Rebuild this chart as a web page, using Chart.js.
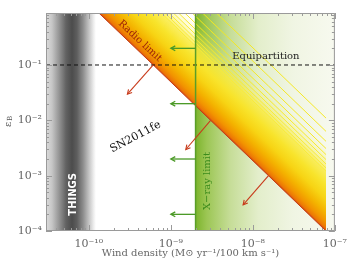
<!DOCTYPE html>
<html>
<head>
<meta charset="utf-8">
<script src="https://cdn.jsdelivr.net/npm/chart.js@4/dist/chart.umd.min.js"></script>
<style>
html, body { margin: 0; padding: 0; background: #fff; }
#wrap { width: 354px; height: 266px; }
</style>
</head>
<body>
<div id="wrap"><canvas id="chart" width="354" height="266"></canvas></div>
<script>
// 坐标范围
const X_MIN = 3.0e-11, X_MAX = 1e-7;
const Y_MIN = 1e-4, Y_MAX = 0.87;
const xTickValues = [1e-10, 1e-9, 1e-8, 1e-7];
const xTickLabels = ['10⁻¹⁰', '10⁻⁹', '10⁻⁸', '10⁻⁷'];
const yTickValues = [1e-4, 1e-3, 1e-2, 1e-1];
const yTickLabels = ['10⁻⁴', '10⁻³', '10⁻²', '10⁻¹'];

// radio limit
const radioWind = [1.2e-10, 6.1e-10, 3.05e-9, 1.55e-8, 7.8e-8];
const radioEps = [1.0, 0.1, 0.01, 1e-3, 1e-4];
// fainter parallel curves above the limit, in dex
const fanOffsets = [1.08, 1.14, 1.21, 1.29, 1.38, 1.49, 1.62, 1.8, 2.04];

const xrayWind = 2e-9;
const equipEps = 0.1;
const thingsWind = [3.0e-11, 1.22e-10];

// arrows
const greenArrowEps = [0.2, 0.02, 0.002, 0.0002];
const greenArrowTip = 1.0e-9;
const redArrowFrom = [[6.1e-10, 0.1], [3.05e-9, 0.01], [1.55e-8, 1e-3]];
const redArrowTo = [[2.95e-10, 0.0297], [1.52e-9, 2.97e-3], [7.6e-9, 2.97e-4]];

// text labels: [text, wind, eps, angle(deg), color, font]
const textLabels = [
    ['Radio limit', 4.2e-10, 0.27, 43, '#9c2208', '10px "DejaVu Serif"'],
    ['Equipartition', 1.44e-8, 0.14, 0, '#222', '10px "DejaVu Serif"'],
    ['SN2011fe', 3.7e-10, 5.0e-3, -28, '#111', '11px "DejaVu Serif"'],
    ['THINGS', 6.4e-11, 4.6e-4, -90, '#ffffff', 'bold 10px "DejaVu Sans"'],
    ['X\u2212ray limit', 2.8e-9, 8.0e-4, -90, '#3c8c1c', '10px "DejaVu Serif"']
];

const SERIF = '"DejaVu Serif", serif';

function px(chart, x) { return chart.scales.x.getPixelForValue(x); }
function py(chart, y) { return chart.scales.y.getPixelForValue(y); }

// 灰色 THINGS 带
function thingsGradient(ctx) {
    const chart = ctx.chart;
    if (!chart.chartArea) return '#888';
    const x0 = px(chart, thingsWind[0]), x1 = px(chart, thingsWind[1]);
    const g = chart.ctx.createLinearGradient(x0, 0, x1, 0);
    g.addColorStop(0, '#dcdcdc');
    g.addColorStop(0.12, '#c6c6c6');
    g.addColorStop(0.28, '#8e8e8e');
    g.addColorStop(0.4, '#626262');
    g.addColorStop(0.52, '#4c4c4c');
    g.addColorStop(0.62, '#5e5e5e');
    g.addColorStop(0.74, '#8c8c8c');
    g.addColorStop(0.86, '#c4c4c4');
    g.addColorStop(0.95, '#ececec');
    g.addColorStop(1, '#ffffff');
    return g;
}

// 绿色 X-ray 区域
function xrayGradient(ctx) {
    const chart = ctx.chart;
    if (!chart.chartArea) return '#8b4';
    const x0 = px(chart, xrayWind), x1 = px(chart, X_MAX);
    const g = chart.ctx.createLinearGradient(x0, 0, x1, 0);
    g.addColorStop(0, '#7cb42c');
    g.addColorStop(0.08, '#9cc654');
    g.addColorStop(0.25, '#c6dd98');
    g.addColorStop(0.45, '#e3eecb');
    g.addColorStop(0.7, '#f0f5e3');
    g.addColorStop(1, '#f7f9ef');
    return g;
}

// 橙黄渐变, 垂直于 radio limit
function radioGradient(ctx) {
    const chart = ctx.chart;
    if (!chart.chartArea) return '#fa0';
    const n = radioWind.length - 1;
    const ax = px(chart, radioWind[0]), ay = py(chart, radioEps[0]);
    const bx = px(chart, radioWind[n]), by = py(chart, radioEps[n]);
    const len = Math.hypot(bx - ax, by - ay);
    const nx = (by - ay) / len, ny = -(bx - ax) / len;
    const D = 60;
    const g = chart.ctx.createLinearGradient(ax, ay, ax + nx * D, ay + ny * D);
    g.addColorStop(0, '#d44a10');
    g.addColorStop(0.03, '#ec7606');
    g.addColorStop(0.1, '#f29400');
    g.addColorStop(0.22, '#f4b400');
    g.addColorStop(0.38, '#f7d414');
    g.addColorStop(0.55, '#f8e42c');
    g.addColorStop(0.7, 'rgba(249,234,60,0.85)');
    g.addColorStop(0.85, 'rgba(250,240,80,0.3)');
    g.addColorStop(1, 'rgba(250,240,90,0.0)');
    return g;
}

const datasets = [];

datasets.push({
    label: 'THINGS',
    data: [{ x: thingsWind[0], y: 1.0 }, { x: thingsWind[1], y: 1.0 }],
    borderWidth: 0, pointRadius: 0, fill: 'start',
    backgroundColor: thingsGradient, order: 20
});

datasets.push({
    label: 'X-ray region',
    data: [{ x: xrayWind, y: 1.0 }, { x: X_MAX, y: 1.0 }],
    borderWidth: 0, pointRadius: 0, fill: 'start',
    backgroundColor: xrayGradient, order: 19
});

datasets.push({
    label: 'Radio limit',
    data: radioWind.map((w, i) => ({ x: w, y: radioEps[i] })),
    borderColor: '#c23c16', borderWidth: 1, pointRadius: 0,
    fill: 'end', backgroundColor: radioGradient, order: 17
});

fanOffsets.forEach((k, j) => {
    datasets.push({
        label: 'fan' + j,
        data: radioWind.map((w, i) => ({ x: w, y: radioEps[i] * Math.pow(10, k) })),
        borderColor: 'rgba(246,232,30,0.95)', borderWidth: 1, pointRadius: 0,
        fill: false, order: 18
    });
});

datasets.push({
    label: 'Equipartition',
    data: [{ x: X_MIN, y: equipEps }, { x: X_MAX, y: equipEps }],
    borderColor: '#111', borderWidth: 1, borderDash: [4, 3], pointRadius: 0,
    fill: false, order: 5
});

datasets.push({
    label: 'X-ray limit',
    data: [{ x: xrayWind, y: Y_MIN }, { x: xrayWind, y: 1.0 }],
    borderColor: '#5a9e28', borderWidth: 1.5, pointRadius: 0,
    fill: false, order: 4
});

// 箭头 & 文字
const overlayPlugin = {
    id: 'overlay',
    afterDatasetsDraw(chart) {
        const c = chart.ctx;
        const area = chart.chartArea;
        c.save();
        c.beginPath();
        c.rect(area.left, area.top, area.right - area.left, area.bottom - area.top);
        c.clip();

        function arrow(x0, y0, x1, y1, color, w, head) {
            c.strokeStyle = color;
            c.lineWidth = w;
            c.beginPath();
            c.moveTo(x0, y0);
            c.lineTo(x1, y1);
            c.stroke();
            const a = Math.atan2(y1 - y0, x1 - x0);
            c.beginPath();
            c.moveTo(x1 - head * Math.cos(a - 0.5), y1 - head * Math.sin(a - 0.5));
            c.lineTo(x1, y1);
            c.lineTo(x1 - head * Math.cos(a + 0.5), y1 - head * Math.sin(a + 0.5));
            c.stroke();
        }

        greenArrowEps.forEach(e => {
            const y = py(chart, e);
            arrow(px(chart, xrayWind), y, px(chart, greenArrowTip), y, '#4c9a28', 1.3, 5);
        });
        redArrowFrom.forEach((f, i) => {
            const t = redArrowTo[i];
            arrow(px(chart, f[0]), py(chart, f[1]), px(chart, t[0]), py(chart, t[1]), '#c83a1a', 1.1, 5);
        });

        textLabels.forEach(([txt, w, e, ang, color, font]) => {
            c.save();
            c.translate(px(chart, w), py(chart, e));
            c.rotate(ang * Math.PI / 180);
            c.font = font;
            c.fillStyle = color;
            c.textAlign = 'center';
            c.textBaseline = 'middle';
            c.fillText(txt, 0, 0);
            c.restore();
        });
        c.restore();
    }
};

// 边框与刻度 (朝内)
const framePlugin = {
    id: 'frame',
    afterDraw(chart) {
        const c = chart.ctx;
        const a = chart.chartArea;
        c.save();
        c.strokeStyle = '#9a9a9a';
        c.lineWidth = 1;
        c.strokeRect(a.left + 0.5, a.top + 0.5, a.right - a.left - 1, a.bottom - a.top - 1);
        c.beginPath();
        for (let d = -11; d <= -7; d++) {
            for (let m = 1; m <= 9; m++) {
                const v = m * Math.pow(10, d);
                if (v < X_MIN * 0.999 || v > X_MAX * 1.001) continue;
                const x = Math.round(px(chart, v)) + 0.5;
                const L = m === 1 ? 6 : 3;
                c.moveTo(x, a.bottom); c.lineTo(x, a.bottom - L);
                c.moveTo(x, a.top); c.lineTo(x, a.top + L);
            }
        }
        for (let d = -4; d <= 0; d++) {
            for (let m = 1; m <= 9; m++) {
                const v = m * Math.pow(10, d);
                if (v < Y_MIN * 0.999 || v > Y_MAX * 1.001) continue;
                const y = Math.round(py(chart, v)) + 0.5;
                const L = m === 1 ? 6 : 3;
                c.moveTo(a.left, y); c.lineTo(a.left + L, y);
                c.moveTo(a.right, y); c.lineTo(a.right - L, y);
            }
        }
        c.stroke();

        // y 轴标题 ε_B
        c.fillStyle = '#555';
        c.save();
        c.translate(8, 122);
        c.rotate(-Math.PI / 2);
        c.textAlign = 'left';
        c.textBaseline = 'middle';
        c.font = '10px ' + SERIF;
        c.fillText('\u03b5', -5, 0);
        c.font = '7px ' + SERIF;
        c.fillText('B', 1, 2);
        c.restore();
        c.restore();
    }
};

new Chart(document.getElementById('chart'), {
    type: 'line',
    data: { datasets },
    options: {
        responsive: false,
        animation: false,
        layout: { padding: { top: 13, right: 17, left: 0, bottom: 0 } },
        plugins: { legend: { display: false }, tooltip: { enabled: false } },
        scales: {
            x: {
                type: 'logarithmic', min: X_MIN, max: X_MAX,
                grid: { display: false, drawTicks: false }, border: { display: false },
                afterBuildTicks: s => { s.ticks = xTickValues.map(v => ({ value: v })); },
                afterFit: s => { s.height = 35; },
                ticks: {
                    autoSkip: false, maxRotation: 0, padding: 7,
                    color: '#666', font: { family: SERIF, size: 11 },
                    callback: (v, i) => xTickLabels[i]
                },
                title: {
                    display: true, text: 'Wind density (M\u2299 yr\u207b\u00b9/100 km s\u207b\u00b9)',
                    color: '#666', font: { family: SERIF, size: 10 },
                    padding: { top: 0, bottom: 7 }
                }
            },
            y: {
                type: 'logarithmic', min: Y_MIN, max: Y_MAX,
                grid: { display: false, drawTicks: false }, border: { display: false },
                afterBuildTicks: s => { s.ticks = yTickValues.map(v => ({ value: v })); },
                afterFit: s => { s.width = 46; },
                ticks: {
                    autoSkip: false, padding: 4,
                    color: '#666', font: { family: SERIF, size: 11 },
                    callback: (v, i) => yTickLabels[i]
                }
            }
        }
    },
    plugins: [overlayPlugin, framePlugin]
});
</script>
</body>
</html>
